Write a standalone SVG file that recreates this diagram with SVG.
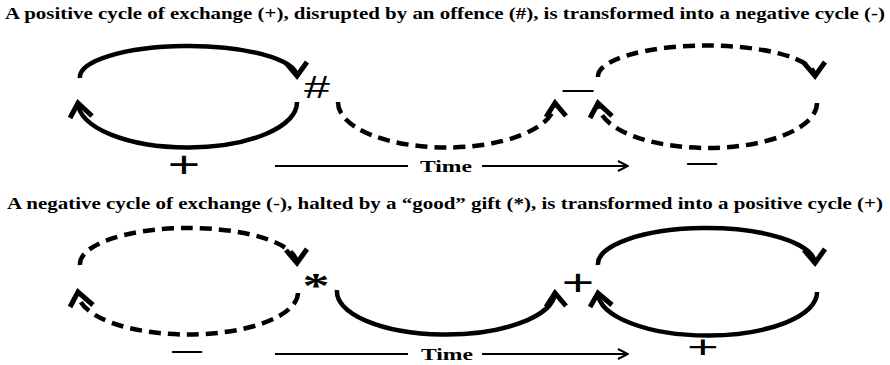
<svg xmlns="http://www.w3.org/2000/svg" width="890" height="365" viewBox="0 0 890 365">
<defs>
<style>
.title{font-family:"Liberation Serif",serif;font-weight:bold;font-size:17px;fill:#000}
.time{font-family:"Liberation Serif",serif;font-weight:bold;font-size:17px;fill:#000}
.sym{font-family:"Liberation Sans",Arial,sans-serif;fill:#000;text-anchor:middle}
.ast{font-family:"Liberation Serif",serif;font-weight:bold;fill:#000;text-anchor:middle}
.arc{fill:none;stroke:#000;stroke-width:4.5}
.dash{stroke-dasharray:12 7}
.head{fill:none;stroke:#000;stroke-width:5;stroke-linejoin:miter}
.tl{fill:none;stroke:#000;stroke-width:2}
</style>
<marker id="open" viewBox="0 0 12 12" refX="11" refY="6" markerWidth="12" markerHeight="12" markerUnits="userSpaceOnUse" orient="auto">
<path d="M1,1 L11,6 L1,11" fill="none" stroke="#000" stroke-width="2"/>
</marker>
</defs>
<rect width="890" height="365" fill="#fff"/>
<text class="title" x="5" y="19" textLength="880" lengthAdjust="spacingAndGlyphs">A positive cycle of exchange (+), disrupted by an offence (#), is transformed into a negative cycle (-)</text>
<text class="title" x="7" y="209" textLength="876" lengthAdjust="spacingAndGlyphs">A negative cycle of exchange (-), halted by a “good” gift (*), is transformed into a positive cycle (+)</text>

<g id="connectors">
<!-- top row -->
<path class="arc" d="M80,78 A108.5,31 0 0 1 297,76"/>
<polyline class="head" points="286,63 297,76 307,62"/>
<path class="arc" d="M297,102 A109.5,45 0 0 1 78,103"/>
<polyline class="head" points="70,118 78,103 92,116"/>
<path class="arc dash" d="M338,102 A108.5,45 0 0 0 555,103"/>
<polyline class="head" points="546,117 555,103 566,116"/>
<path class="arc dash" d="M598,77 A108.5,31 0 0 1 815,76"/>
<polyline class="head" points="804,63 815,76 825,62"/>
<path class="arc dash" d="M817,103 A109.5,45 0 0 1 598,103"/>
<polyline class="head" points="590,118 598,103 612,116"/>
<line class="tl" x1="275" y1="166" x2="408" y2="166"/>
<line class="tl" x1="482" y1="166" x2="628" y2="166" marker-end="url(#open)"/>
<!-- bottom row -->
<path class="arc dash" d="M80,265 A108.5,36 0 0 1 297,263"/>
<polyline class="head" points="286,250 297,263 307,249"/>
<path class="arc dash" d="M298,293 A110,42 0 0 1 78,292"/>
<polyline class="head" points="70,307 78,292 93,305"/>
<path class="arc" d="M337,290 A109,43 0 0 0 555,293"/>
<polyline class="head" points="546,307 555,293 566,306"/>
<path class="arc" d="M598,265 A108.5,36 0 0 1 815,263"/>
<polyline class="head" points="804,250 815,263 825,249"/>
<path class="arc" d="M817,292 A109.5,43 0 0 1 598,293"/>
<polyline class="head" points="590,307 598,293 612,305"/>
<line class="tl" x1="275" y1="354" x2="408" y2="354"/>
<line class="tl" x1="482" y1="354" x2="628" y2="354" marker-end="url(#open)"/>
</g>

<g id="time-top"><text class="time" x="420" y="172" textLength="52" lengthAdjust="spacingAndGlyphs">Time</text></g>
<g id="time-bottom"><text class="time" x="421" y="360" textLength="52" lengthAdjust="spacingAndGlyphs">Time</text></g>

<g id="label-plus-top"><text class="sym" font-size="37" transform="translate(184,177) scale(1.5,1)">+</text></g>
<g id="label-minus-top"><text class="sym" font-size="30" transform="translate(702,172)">—</text></g>
<g id="label-hash"><text class="sym" font-size="31" transform="translate(317,98) scale(1.5,1)">#</text></g>
<g id="label-minus-mid"><text class="sym" font-size="31" transform="translate(578,99)">—</text></g>

<g id="label-minus-bottom"><text class="sym" font-size="30" transform="translate(187,360)">—</text></g>
<g id="label-plus-bottom"><text class="sym" font-size="32" transform="translate(703,358) scale(1.7,1)">+</text></g>
<g id="label-ast"><text class="ast" font-size="36" transform="translate(316,298) scale(1.5,1)">*</text></g>
<g id="label-plus-mid"><text class="sym" font-size="37" transform="translate(578,295) scale(1.5,1)">+</text></g>
</svg>
